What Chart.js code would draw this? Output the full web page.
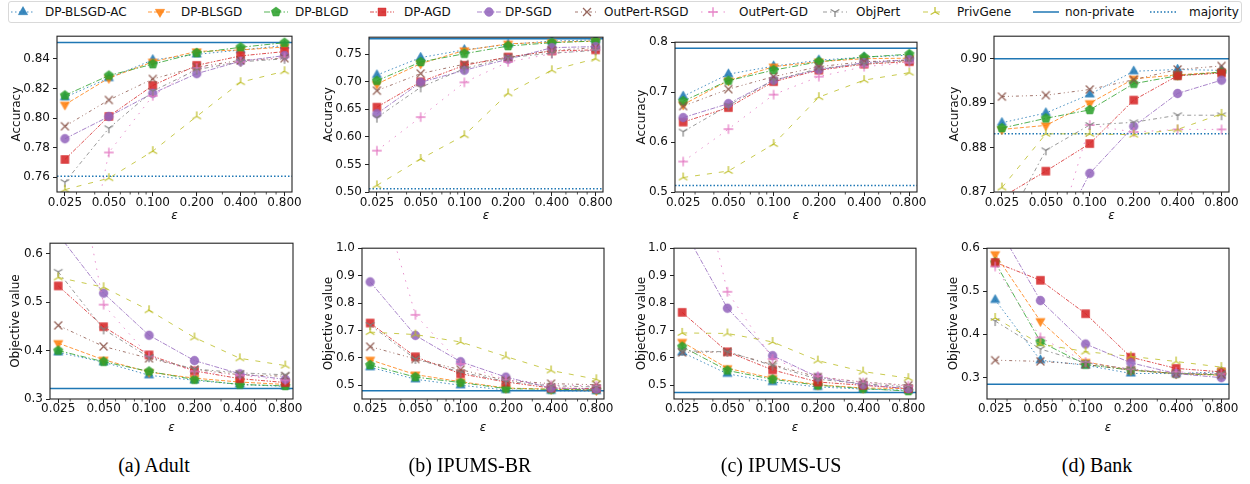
<!DOCTYPE html>
<html><head><meta charset="utf-8"><title>chart</title>
<script src="https://cdn.jsdelivr.net/npm/chart.js@4.4.1/dist/chart.umd.min.js"></script>
<style>
html,body{margin:0;padding:0;background:#fff;}
body{width:1250px;height:484px;position:relative;overflow:hidden;font-family:"DejaVu Sans",sans-serif;}
canvas.plot{position:absolute;}
canvas.li{position:absolute;}
#legend{position:absolute;left:8px;top:1px;width:1234px;height:22px;box-sizing:border-box;border:1px solid #d9d9d9;border-radius:3px;background:#fff;}
.lt{position:absolute;top:2px;font-size:12px;line-height:20px;color:#111;white-space:nowrap;}
.cap{position:absolute;top:454px;font-family:"Liberation Serif",serif;font-size:20px;line-height:22px;color:#000;white-space:nowrap;transform:translateX(-50%);}
</style></head><body>
<div id="legend"></div>
<script>
// ---------------- data ----------------
const epsValues = [0.025, 0.05, 0.1, 0.2, 0.4, 0.8];
const epsLabels = ['0.025', '0.050', '0.100', '0.200', '0.400', '0.800'];
const epsMinorTicks = [0.03, 0.04, 0.06, 0.07, 0.08, 0.09, 0.3, 0.5, 0.6, 0.7];
const methods = ['DP-BLSGD-AC', 'DP-BLSGD', 'DP-BLGD', 'DP-AGD', 'DP-SGD', 'OutPert-RSGD', 'OutPert-GD', 'ObjPert', 'PrivGene'];
const captions = ['(a) Adult', '(b) IPUMS-BR', '(c) IPUMS-US', '(d) Bank'];

// rows follow the order of `methods`
const adultAccuracy = [
  [0.814, 0.827, 0.8393, 0.843, 0.846, 0.849],
  [0.809, 0.827, 0.838, 0.845, 0.846, 0.848],
  [0.8153, 0.8287, 0.8364, 0.844, 0.8478, 0.8509],
  [0.772, 0.8011, 0.822, 0.8356, 0.842, 0.8449],
  [0.786, 0.801, 0.8167, 0.830, 0.8384, 0.8422],
  [0.7944, 0.8122, 0.8264, 0.8344, 0.839, 0.8404],
  [0.63, 0.7767, 0.815, 0.8338, 0.838, 0.841],
  [0.7567, 0.7931, 0.8182, 0.8327, 0.838, 0.840],
  [0.7516, 0.7593, 0.7776, 0.8011, 0.8242, 0.8316]
];
const brAccuracy = [
  [0.7123, 0.744, 0.758, 0.768, 0.774, 0.776],
  [0.696, 0.733, 0.757, 0.769, 0.772, 0.774],
  [0.702, 0.736, 0.751, 0.765, 0.771, 0.774],
  [0.654, 0.700, 0.730, 0.745, 0.756, 0.758],
  [0.642, 0.699, 0.721, 0.741, 0.762, 0.764],
  [0.684, 0.715, 0.732, 0.744, 0.757, 0.762],
  [0.575, 0.636, 0.699, 0.736, 0.751, 0.758],
  [0.635, 0.690, 0.724, 0.744, 0.752, 0.757],
  [0.512, 0.560, 0.603, 0.679, 0.721, 0.742]
];
const usAccuracy = [
  [0.6916, 0.736, 0.752, 0.764, 0.770, 0.774],
  [0.675, 0.723, 0.751, 0.761, 0.767, 0.768],
  [0.682, 0.723, 0.744, 0.761, 0.770, 0.776],
  [0.640, 0.669, 0.721, 0.744, 0.756, 0.761],
  [0.649, 0.677, 0.724, 0.745, 0.759, 0.765],
  [0.672, 0.706, 0.731, 0.751, 0.761, 0.764],
  [0.561, 0.626, 0.695, 0.731, 0.751, 0.759],
  [0.621, 0.673, 0.724, 0.747, 0.757, 0.763],
  [0.529, 0.542, 0.596, 0.690, 0.724, 0.739]
];
const bankAccuracy = [
  [0.8856, 0.8878, 0.892, 0.8972, 0.8976, 0.8974],
  [0.8841, 0.885, 0.890, 0.8955, 0.8964, 0.897],
  [0.8844, 0.8866, 0.8885, 0.8944, 0.8962, 0.897],
  [0.8688, 0.8747, 0.8809, 0.8907, 0.8962, 0.8968],
  [0.845, 0.855, 0.8742, 0.8848, 0.8922, 0.8952],
  [0.8915, 0.8918, 0.8931, 0.8953, 0.8976, 0.8984],
  [0.84, 0.852, 0.8851, 0.8835, 0.8841, 0.8841],
  [0.861, 0.8794, 0.8851, 0.8857, 0.8873, 0.8873],
  [0.871, 0.8831, 0.8831, 0.8829, 0.8841, 0.8876]
];
const adultObjective = [
  [0.3963, 0.376, 0.349, 0.3386, 0.330, 0.326],
  [0.4153, 0.381, 0.3556, 0.343, 0.335, 0.330],
  [0.400, 0.377, 0.357, 0.340, 0.330, 0.327],
  [0.5335, 0.4493, 0.391, 0.358, 0.342, 0.334],
  [0.64, 0.5185, 0.4316, 0.3793, 0.352, 0.3406],
  [0.452, 0.4085, 0.384, 0.361, 0.350, 0.347],
  [0.98, 0.4948, 0.388, 0.357, 0.349, 0.3386],
  [0.5627, 0.4438, 0.386, 0.362, 0.354, 0.350],
  [0.551, 0.5307, 0.4832, 0.4269, 0.384, 0.369]
];
const brObjective = [
  [0.566, 0.522, 0.500, 0.483, 0.480, 0.479],
  [0.593, 0.539, 0.513, 0.490, 0.486, 0.482],
  [0.574, 0.530, 0.510, 0.488, 0.485, 0.484],
  [0.727, 0.604, 0.542, 0.512, 0.490, 0.488],
  [0.877, 0.682, 0.586, 0.530, 0.490, 0.486],
  [0.641, 0.596, 0.557, 0.518, 0.506, 0.502],
  [1.33, 0.757, 0.578, 0.520, 0.500, 0.498],
  [0.720, 0.596, 0.548, 0.514, 0.498, 0.494],
  [0.694, 0.685, 0.658, 0.605, 0.554, 0.522]
];
const usObjective = [
  [0.620, 0.542, 0.512, 0.494, 0.486, 0.482],
  [0.658, 0.562, 0.526, 0.502, 0.490, 0.488],
  [0.641, 0.554, 0.522, 0.500, 0.488, 0.479],
  [0.766, 0.622, 0.556, 0.512, 0.500, 0.488],
  [1.08, 0.781, 0.608, 0.530, 0.502, 0.488],
  [0.620, 0.622, 0.575, 0.530, 0.512, 0.500],
  [1.55, 0.841, 0.596, 0.533, 0.510, 0.498],
  [0.626, 0.622, 0.572, 0.522, 0.506, 0.494],
  [0.691, 0.689, 0.658, 0.590, 0.550, 0.526]
];
const bankObjective = [
  [0.480, 0.340, 0.3283, 0.3093, 0.309, 0.313],
  [0.586, 0.4307, 0.336, 0.317, 0.309, 0.305],
  [0.567, 0.383, 0.330, 0.317, 0.309, 0.306],
  [0.567, 0.5256, 0.448, 0.347, 0.321, 0.313],
  [0.661, 0.4786, 0.3776, 0.334, 0.309, 0.2995],
  [0.340, 0.3374, 0.330, 0.317, 0.309, 0.307],
  [0.5575, 0.393, 0.336, 0.319, 0.313, 0.309],
  [0.431, 0.366, 0.334, 0.319, 0.309, 0.309],
  [0.438, 0.3776, 0.360, 0.349, 0.337, 0.324]
];

const nonPrivateAccuracy = [0.851, 0.778, 0.788, 0.900];
const majorityAccuracy = [0.7607, 0.506, 0.513, 0.8831];
const nonPrivateObjective = [0.3217, 0.480, 0.474, 0.284];

const accuracyTickLabels = [
  ['0.76', '0.78', '0.80', '0.82', '0.84'],
  ['0.50', '0.55', '0.60', '0.65', '0.70', '0.75'],
  ['0.5', '0.6', '0.7', '0.8'],
  ['0.87', '0.88', '0.89', '0.90']
];
const objectiveTickLabels = [
  ['0.3', '0.4', '0.5', '0.6'],
  ['0.5', '0.6', '0.7', '0.8', '0.9', '1.0'],
  ['0.5', '0.6', '0.7', '0.8', '0.9', '1.0'],
  ['0.3', '0.4', '0.5', '0.6']
];
const accuracyRange = [[0.75, 0.8553], [0.50, 0.781], [0.50, 0.80], [0.87, 0.9051]];
const objectiveRange = [[0.30, 0.6217], [0.45, 1.0], [0.45, 1.0], [0.25, 0.60]];
const epsRange = [0.02206, 0.90];

// ---------------- styles & layout ----------------
const RGB = {
  blue: '31,119,180', orange: '255,127,14', green: '44,160,44', red: '214,39,40',
  purple: '148,103,189', brown: '140,86,75', pink: '227,119,194', gray: '127,127,127', olive: '188,189,34'
};
const seriesStyle = [
  {c: RGB.blue, dash: [1.5, 2.5], marker: 'triangle', r: 5.4},
  {c: RGB.orange, dash: [4, 2], marker: 'triangleDown', r: 5.4},
  {c: RGB.green, dash: [6, 2, 1.5, 2], marker: 'pentagon', r: 5},
  {c: RGB.red, dash: [4, 1.5, 1.5, 1.5, 1.5, 1.5], marker: 'rect', r: 5.4},
  {c: RGB.purple, dash: [5, 1.5, 1.5, 1.5], marker: 'circle', r: 4.4},
  {c: RGB.brown, dash: [3, 3, 1, 3, 1, 3], marker: 'crossRot', r: 5.5},
  {c: RGB.pink, dash: [1.5, 6], marker: 'cross', r: 4.8},
  {c: RGB.gray, dash: [4, 3, 1.5, 3], marker: 'triDown', r: 5},
  {c: RGB.olive, dash: [5, 7], marker: 'triUp', r: 5}
];
// plot rectangles (page px) and y-title offset from plot left
const panelBoxes = [
  {L: 57, T: 34, R: 292, B: 192, tOff: 40, row: 0},
  {L: 369, T: 35, R: 603, B: 192, tOff: 40, row: 0},
  {L: 675, T: 40, R: 917, B: 192, tOff: 33.5, row: 0},
  {L: 994, T: 34, R: 1229, B: 192, tOff: 39.5, row: 0},
  {L: 50, T: 241, R: 293, B: 399, tOff: 34.5, row: 1},
  {L: 362, T: 246, R: 604, B: 399, tOff: 33.5, row: 1},
  {L: 674, T: 246, R: 916, B: 399, tOff: 32, row: 1},
  {L: 987, T: 246, R: 1229, B: 399, tOff: 33, row: 1}
];
const captionX = [154, 470, 781, 1097];

const TXT = '#111';
const FONT = 'DejaVu Sans';
Chart.defaults.font.family = FONT;

function drawMarker(g, kind, rgb, r) {
  const fill = `rgba(${rgb},0.88)`, edge = `rgba(${rgb},0.45)`;
  g.lineJoin = 'miter';
  const poly = (angles, rad) => {
    g.beginPath();
    angles.forEach((a, k) => {
      const t = a * Math.PI / 180;
      const px = rad * Math.cos(t), py = rad * Math.sin(t);
      if (k === 0) g.moveTo(px, py); else g.lineTo(px, py);
    });
    g.closePath();
    g.fillStyle = fill; g.fill();
    g.strokeStyle = edge; g.lineWidth = 1; g.stroke();
  };
  if (kind === 'triangle') poly([-90, 30, 150], r);
  else if (kind === 'triangleDown') poly([90, -30, -150], r);
  else if (kind === 'pentagon') poly([-90, -18, 54, 126, 198], r);
  else if (kind === 'rect') { const h = r * 0.74; g.beginPath(); g.rect(-h, -h, 2 * h, 2 * h); g.fillStyle = fill; g.fill(); g.strokeStyle = edge; g.lineWidth = 1; g.stroke(); }
  else if (kind === 'circle') { g.beginPath(); g.arc(0, 0, r, 0, Math.PI * 2); g.fillStyle = fill; g.fill(); g.strokeStyle = edge; g.lineWidth = 1; g.stroke(); }
  else {
    g.strokeStyle = `rgba(${rgb},0.9)`; g.lineWidth = 1.3; g.lineCap = 'butt';
    let segs;
    if (kind === 'crossRot') { const h = r * 0.72; segs = [[-h, -h, h, h], [-h, h, h, -h]]; }
    else if (kind === 'cross') segs = [[-r, 0, r, 0], [0, -r, 0, r]];
    else {
      const angs = kind === 'triDown' ? [-150, -30, 90] : [150, 30, -90];
      segs = angs.map(a => [0, 0, r * Math.cos(a * Math.PI / 180), r * Math.sin(a * Math.PI / 180)]);
    }
    g.beginPath();
    segs.forEach(s => { g.moveTo(s[0], s[1]); g.lineTo(s[2], s[3]); });
    g.stroke();
  }
}
function markerCanvas(kind, rgb, r) {
  const s = Math.ceil(r * 2 + 4);
  const c = document.createElement('canvas');
  c.width = s; c.height = s;
  const g = c.getContext('2d');
  g.translate(s / 2, s / 2);
  drawMarker(g, kind, rgb, r);
  return c;
}

const framePlugin = {
  id: 'frame',
  afterDraw(chart) {
    const {ctx, chartArea: a, scales} = chart;
    ctx.save();
    ctx.strokeStyle = '#222';
    ctx.lineWidth = 1.1;
    ctx.strokeRect(a.left, a.top, a.right - a.left, a.bottom - a.top);
    // minor ticks on the log axis
    ctx.lineWidth = 0.8;
    ctx.beginPath();
    epsMinorTicks.forEach(v => {
      const px = scales.x.getPixelForValue(v);
      if (px > a.left && px < a.right) { ctx.moveTo(px, a.bottom); ctx.lineTo(px, a.bottom + 2.5); }
    });
    ctx.stroke();
    ctx.restore();
  }
};

function buildPanel(box, tableRows, range, tickLabels, yTitle, nonPriv, majority) {
  const W = 52, padTop = 8, padRight = 20, H = 40;
  const cw = (box.R - box.L) + W + padRight;
  const ch = (box.B - box.T) + padTop + H;
  const cv = document.createElement('canvas');
  cv.className = 'plot';
  cv.style.left = (box.L - W) + 'px';
  cv.style.top = (box.T - padTop) + 'px';
  cv.style.width = cw + 'px'; cv.style.height = ch + 'px';
  cv.width = cw; cv.height = ch;
  document.body.appendChild(cv);

  const datasets = tableRows.map((row, i) => {
    const st = seriesStyle[i];
    return {
      label: methods[i],
      data: epsValues.map((e, k) => ({x: e, y: row[k]})),
      borderColor: `rgba(${st.c},0.8)`,
      borderWidth: 1,
      borderDash: st.dash,
      pointStyle: markerCanvas(st.marker, st.c, st.r),
      pointRadius: st.r,
      fill: false,
      tension: 0,
      clip: 0,
      order: 20 - i
    };
  });
  datasets.push({
    label: 'non-private',
    data: [{x: epsRange[0], y: nonPriv}, {x: epsRange[1], y: nonPriv}],
    borderColor: 'rgb(31,119,180)', borderWidth: 1.5, pointRadius: 0, fill: false, clip: 0, order: 40
  });
  if (majority !== null) {
    datasets.push({
      label: 'majority',
      data: [{x: epsRange[0], y: majority}, {x: epsRange[1], y: majority}],
      borderColor: 'rgb(31,119,180)', borderWidth: 1.5, borderDash: [1.5, 2], pointRadius: 0, fill: false, clip: 0, order: 41
    });
  }
  const yTickValues = tickLabels.map(Number);
  const xTitlePadBottom = box.row === 0 ? 8.8 : 4.3;
  const xTickPad = box.row === 0 ? 0 : -1;

  new Chart(cv, {
    type: 'line',
    data: {datasets},
    options: {
      responsive: false, animation: false, devicePixelRatio: 1,
      layout: {padding: {top: padTop, right: padRight, left: 0, bottom: 0}},
      plugins: {legend: {display: false}, tooltip: {enabled: false}},
      events: [],
      scales: {
        x: {
          type: 'logarithmic', min: epsRange[0], max: epsRange[1],
          afterBuildTicks: s => { s.ticks = epsValues.map(v => ({value: v})); },
          afterFit: s => { s.height = H; },
          ticks: {autoSkip: false, maxRotation: 0, minRotation: 0, padding: xTickPad, color: TXT,
                  font: {family: FONT, size: 12}, callback: (v, i) => epsLabels[i]},
          grid: {drawOnChartArea: false, drawTicks: true, tickLength: 4, tickColor: '#222', tickWidth: 1},
          border: {display: false},
          title: {display: true, text: 'ε', color: TXT, font: {family: FONT, size: 12, style: 'italic'},
                  padding: {top: 0, bottom: xTitlePadBottom}}
        },
        y: {
          type: 'linear', min: range[0], max: range[1],
          afterBuildTicks: s => { s.ticks = yTickValues.map(v => ({value: v})); },
          afterFit: s => { s.width = W; },
          ticks: {padding: 3, color: TXT, font: {family: FONT, size: 12}, callback: (v, i) => tickLabels[i]},
          grid: {drawOnChartArea: false, drawTicks: true, tickLength: 4, tickColor: '#222', tickWidth: 1},
          border: {display: false},
          title: {display: true, text: yTitle, color: TXT, font: {family: FONT, size: 12},
                  padding: {top: W - box.tOff - 7.2, bottom: 0}}
        }
      }
    },
    plugins: [framePlugin]
  });
}

const accTables = [adultAccuracy, brAccuracy, usAccuracy, bankAccuracy];
const objTables = [adultObjective, brObjective, usObjective, bankObjective];
for (let d = 0; d < 4; d++) {
  buildPanel(panelBoxes[d], accTables[d], accuracyRange[d], accuracyTickLabels[d], 'Accuracy', nonPrivateAccuracy[d], majorityAccuracy[d]);
  buildPanel(panelBoxes[d + 4], objTables[d], objectiveRange[d], objectiveTickLabels[d], 'Objective value', nonPrivateObjective[d], null);
  const cap = document.createElement('div');
  cap.className = 'cap';
  cap.style.left = captionX[d] + 'px';
  cap.textContent = captions[d];
  document.body.appendChild(cap);
}

// ---------------- legend ----------------
const legendIconX = [23, 160, 276, 382, 489, 587, 713, 835, 935, 1046, 1163];
const legendTextX = [45, 181, 295, 404, 505, 604, 739, 856, 957, 1065, 1189];
const legendNames = methods.concat(['non-private', 'majority']);
legendNames.forEach((name, i) => {
  const ic = document.createElement('canvas');
  ic.className = 'li';
  ic.width = 28; ic.height = 20;
  ic.style.left = (legendIconX[i] - 14) + 'px';
  ic.style.top = '2px';
  document.body.appendChild(ic);
  const g = ic.getContext('2d');
  g.translate(14, 10);
  if (i < methods.length) {
    const st = seriesStyle[i];
    g.strokeStyle = `rgba(${st.c},0.8)`; g.lineWidth = 1; g.setLineDash(st.dash);
    g.beginPath(); g.moveTo(-12, 0); g.lineTo(12, 0); g.stroke();
    g.setLineDash([]);
    drawMarker(g, st.marker, st.c, st.r);
  } else {
    g.strokeStyle = 'rgb(31,119,180)'; g.lineWidth = 1.5;
    g.setLineDash(name === 'majority' ? [1.5, 2] : []);
    g.beginPath(); g.moveTo(-13, 0); g.lineTo(13, 0); g.stroke();
  }
  const t = document.createElement('div');
  t.className = 'lt';
  t.style.left = legendTextX[i] + 'px';
  t.textContent = name;
  document.body.appendChild(t);
});
</script>
</body></html>
